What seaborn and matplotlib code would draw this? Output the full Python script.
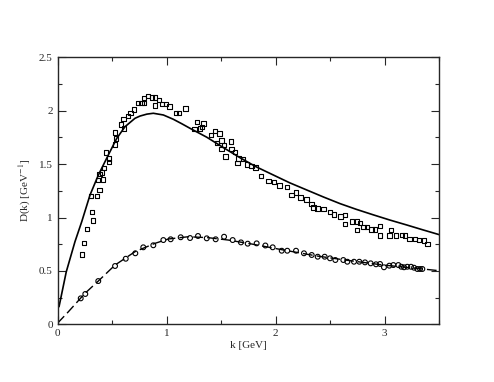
import matplotlib
matplotlib.use("Agg")
import matplotlib.pyplot as plt
import seaborn as sns
from matplotlib.ticker import MultipleLocator

# lattice data, squares (upper set)
sq_k = [0.222, 0.243, 0.273, 0.314, 0.328, 0.307, 0.360, 0.384, 0.372, 0.384, 0.411, 0.417,
        0.427, 0.445, 0.475, 0.475, 0.525, 0.537, 0.530, 0.580, 0.604, 0.610, 0.644, 0.671,
        0.700, 0.739, 0.769, 0.796, 0.794, 0.833, 0.867, 0.897, 0.897, 0.931, 0.956, 0.995,
        1.029, 1.087, 1.112, 1.176, 1.258, 1.277, 1.307, 1.326, 1.338, 1.408, 1.445, 1.485,
        1.466, 1.506, 1.506, 1.528, 1.540, 1.589, 1.598, 1.626, 1.650, 1.662, 1.699, 1.741,
        1.781, 1.818, 1.867, 1.934, 1.986, 2.038, 2.108, 2.148, 2.188, 2.228, 2.286, 2.329,
        2.347, 2.387, 2.439, 2.500, 2.537, 2.598, 2.635, 2.638, 2.699, 2.745, 2.745, 2.775,
        2.806, 2.842, 2.879, 2.910, 2.959, 2.959, 3.057, 3.044, 3.106, 3.158, 3.188, 3.228,
        3.280, 3.317, 3.362, 3.396]
sq_D = [0.655, 0.760, 0.895, 1.050, 0.972, 1.200, 1.200, 1.257, 1.351, 1.407, 1.420, 1.357,
        1.463, 1.607, 1.554, 1.520, 1.682, 1.738, 1.797, 1.869, 1.920, 1.835, 1.950, 1.980,
        2.010, 2.070, 2.070, 2.070, 2.120, 2.140, 2.125, 2.125, 2.050, 2.100, 2.063, 2.063,
        2.040, 1.980, 1.980, 2.020, 1.826, 1.894, 1.835, 1.850, 1.880, 1.772, 1.810, 1.788,
        1.700, 1.720, 1.639, 1.679, 1.570, 1.710, 1.639, 1.616, 1.513, 1.554, 1.545, 1.498,
        1.482, 1.470, 1.391, 1.342, 1.332, 1.301, 1.283, 1.211, 1.236, 1.189, 1.170, 1.124,
        1.092, 1.086, 1.080, 1.049, 1.030, 1.008, 1.021, 0.939, 0.961, 0.961, 0.883, 0.951,
        0.914, 0.914, 0.889, 0.889, 0.920, 0.830, 0.883, 0.830, 0.830, 0.836, 0.830, 0.796,
        0.796, 0.789, 0.783, 0.752]

# lattice data, circles (lower set)
ci_k = [0.213, 0.255, 0.374, 0.528, 0.626, 0.714, 0.787, 0.879, 0.971, 1.038, 1.130, 1.216,
        1.289, 1.369, 1.451, 1.528, 1.607, 1.683, 1.745, 1.827, 1.907, 1.974, 2.057, 2.108,
        2.188, 2.261, 2.332, 2.387, 2.451, 2.500, 2.549, 2.622, 2.659, 2.720, 2.769, 2.821,
        2.873, 2.922, 2.959, 2.995, 3.044, 3.081, 3.127, 3.154, 3.179, 3.209, 3.243, 3.271,
        3.301, 3.326, 3.347]
ci_D = [0.243, 0.284, 0.405, 0.546, 0.614, 0.665, 0.721, 0.740, 0.789, 0.796, 0.815, 0.808,
        0.827, 0.805, 0.796, 0.820, 0.789, 0.767, 0.755, 0.758, 0.738, 0.721, 0.689, 0.689,
        0.689, 0.665, 0.649, 0.633, 0.633, 0.618, 0.602, 0.602, 0.586, 0.586, 0.586, 0.580,
        0.571, 0.562, 0.565, 0.534, 0.549, 0.555, 0.555, 0.539, 0.534, 0.539, 0.539, 0.530,
        0.518, 0.518, 0.518]

# model curves
fit1_k = [0.014, 0.08, 0.16, 0.222, 0.298, 0.375, 0.466, 0.543, 0.619, 0.711, 0.757, 0.82,
          0.879, 0.971, 1.062, 1.14, 1.216, 1.369, 1.521, 1.674, 1.82, 1.98, 2.13, 2.286,
          2.44, 2.592, 2.74, 2.897, 3.05, 3.204, 3.35, 3.5]
fit1_D = [0.165, 0.49, 0.773, 0.96, 1.21, 1.398, 1.585, 1.74, 1.85, 1.929, 1.95, 1.968,
          1.976, 1.96, 1.92, 1.878, 1.835, 1.752, 1.655, 1.56, 1.476, 1.398, 1.325, 1.258,
          1.192, 1.13, 1.077, 1.025, 0.976, 0.93, 0.885, 0.84]
fit2_k = [0.0, 0.1, 0.252, 0.374, 0.528, 0.711, 0.894, 1.017, 1.2, 1.384, 1.567, 1.781,
          2.072, 2.378, 2.683, 2.989, 3.295, 3.5]
fit2_D = [0.01, 0.118, 0.29, 0.405, 0.555, 0.68, 0.758, 0.799, 0.82, 0.811, 0.789, 0.752,
          0.696, 0.64, 0.596, 0.555, 0.524, 0.502]

sns.set_style("ticks")
plt.rcParams['font.family'] = ['Liberation Serif', 'DejaVu Serif']
plt.rcParams['mathtext.fontset'] = 'stix'

fig = plt.figure(figsize=(4.94, 3.82), dpi=100)
ax = fig.add_axes([0.1164, 0.151, 0.7723, 0.699])

sns.lineplot(x=fit1_k, y=fit1_D, color='black', linewidth=1.2, ax=ax, sort=False)
sns.lineplot(x=fit2_k, y=fit2_D, color='black', linewidth=1.0, linestyle=(0, (7, 3)),
             ax=ax, sort=False)
sns.scatterplot(x=sq_k, y=sq_D, marker='s', s=10, facecolor='none', edgecolor='black',
                linewidth=0.8, ax=ax, zorder=3)
sns.scatterplot(x=ci_k, y=ci_D, marker='o', s=12, facecolor='none', edgecolor='black',
                linewidth=0.8, ax=ax, zorder=3)

ax.set_xlim(0, 3.5)
ax.set_ylim(0, 2.5)
ax.xaxis.set_major_locator(MultipleLocator(1))
ax.xaxis.set_minor_locator(MultipleLocator(0.5))
ax.yaxis.set_major_locator(MultipleLocator(0.5))
ax.yaxis.set_minor_locator(MultipleLocator(0.25))
ax.tick_params(which='both', direction='in', top=True, right=True, labelsize=8, width=0.8)
ax.tick_params(which='major', length=6)
ax.tick_params(which='minor', length=3)
ax.yaxis.set_major_formatter(plt.FuncFormatter(lambda v, p: f"{v:g}"))
ax.xaxis.set_major_formatter(plt.FuncFormatter(lambda v, p: f"{v:g}"))
for sp in ax.spines.values():
    sp.set_linewidth(1.0)

ax.set_xlabel("k [GeV]", fontsize=8, labelpad=2)
ax.set_ylabel("D(k) [GeV$^{-1}$]", fontsize=8, labelpad=4)

fig.savefig("out.png", dpi=100)
